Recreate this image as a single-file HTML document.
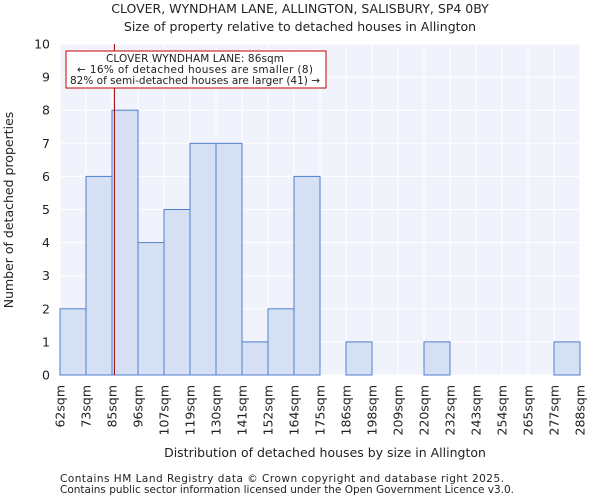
<!DOCTYPE html>
<html><head><meta charset="utf-8"><style>
body{margin:0;background:#fff;font-family:"DejaVu Sans","Liberation Sans",sans-serif;}
svg text{font-family:"DejaVu Sans","Liberation Sans",sans-serif;fill:#222;}
</style></head><body>
<svg id="chart" width="600" height="500">
<text x="300" y="13" text-anchor="middle" font-size="12.5">CLOVER, WYNDHAM LANE, ALLINGTON, SALISBURY, SP4 0BY</text>
<text x="300" y="31" text-anchor="middle" font-size="12.5">Size of property relative to detached houses in Allington</text>
<rect x="60" y="44" width="520" height="331" fill="#f0f3fb"/>
<g id="grid"></g><g id="bars"></g><g id="axes"></g>
<text x="325" y="457" text-anchor="middle" font-size="12.5">Distribution of detached houses by size in Allington</text>
<text transform="translate(13,210) rotate(-90)" text-anchor="middle" font-size="12.5">Number of detached properties</text>
<line x1="114.4" y1="44" x2="114.4" y2="375" stroke="#a00000" stroke-width="1"/>
<rect x="66" y="51" width="260" height="37" fill="#fff" stroke="#c00000" stroke-width="1"/>
<text x="195" y="62" text-anchor="middle" font-size="10.5" textLength="178">CLOVER WYNDHAM LANE: 86sqm</text>
<text x="195" y="73" text-anchor="middle" font-size="10.5" textLength="236">← 16% of detached houses are smaller (8)</text>
<text x="195" y="84" text-anchor="middle" font-size="10.5" textLength="250">82% of semi-detached houses are larger (41) →</text>
<text x="60" y="482" font-size="10.5" fill="#444" textLength="444">Contains HM Land Registry data © Crown copyright and database right 2025.</text>
<text x="60" y="493" font-size="10.5" fill="#444" textLength="454">Contains public sector information licensed under the Open Government Licence v3.0.</text>
</svg>
<script>
const binLabels=["62sqm","73sqm","85sqm","96sqm","107sqm","119sqm","130sqm","141sqm","152sqm","164sqm","175sqm","186sqm","198sqm","209sqm","220sqm","232sqm","243sqm","254sqm","265sqm","277sqm","288sqm"];
const counts=[2,6,8,4,5,7,7,1,2,6,0,1,0,0,1,0,0,0,0,1];
const yTicks=[0,1,2,3,4,5,6,7,8,9,10];
const ns="http://www.w3.org/2000/svg";
const X0=60,X1=580,Y0=375,Y1=44,YMAX=10;
const bw=(X1-X0)/counts.length;
const xs=i=>X0+i*bw;
const ys=v=>Y0-(v/YMAX)*(Y0-Y1);
function mk(tag,attrs,parent){const e=document.createElementNS(ns,tag);for(const k in attrs)e.setAttribute(k,attrs[k]);document.getElementById(parent).appendChild(e);return e;}
yTicks.forEach(t=>{
 const l=mk("line",{x1:X0,x2:X1,y1:ys(t),y2:ys(t),stroke:"#fff","stroke-width":1},"grid");
 
 
 const tk=mk("text",{x:X0-10,y:ys(t)+4.5,"text-anchor":"end","font-size":"12.5"},"axes");
 tk.textContent=t;
 
 
});
binLabels.forEach((lab,i)=>{
 const l=mk("line",{x1:xs(i),x2:xs(i),y1:Y1,y2:Y0,stroke:"#fff","stroke-width":1},"grid");
 
 
 const x=xs(i),y=Y0+10;
 const tk=mk("text",{x:x+4.5,y:y,"text-anchor":"end","font-size":"12.5",transform:`rotate(-90 ${x+4.5} ${y})`},"axes");
 tk.textContent=lab;
 
 
});
counts.forEach((c,i)=>{
 if(c<=0)return;
 const r=mk("rect",{x:xs(i),y:ys(c),width:bw,height:Y0-ys(c),fill:"#d6e0f3",stroke:"#4f7fd0","stroke-width":1},"bars");
 
 
});
</script>
</body></html>
